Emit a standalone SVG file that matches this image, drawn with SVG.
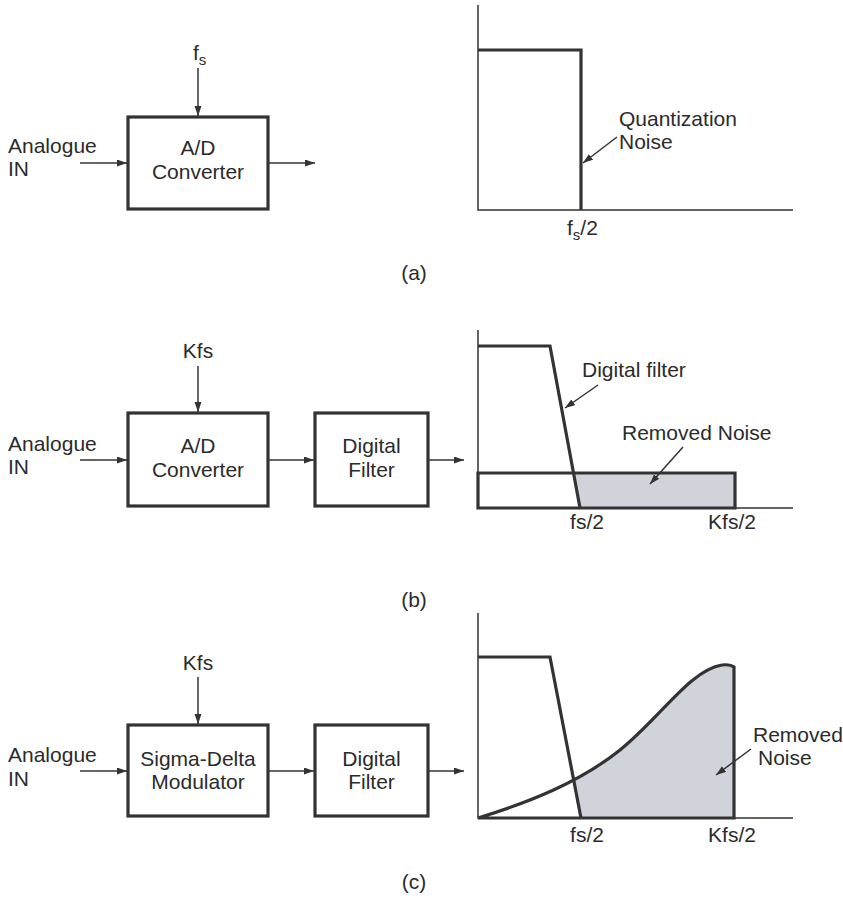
<svg xmlns="http://www.w3.org/2000/svg" width="843" height="899" viewBox="0 0 843 899">
<style>
text{font-family:"Liberation Sans",Arial,sans-serif;font-size:21px;fill:#2b2b2b}
.c{text-anchor:middle}
.box{fill:#fff;stroke:#333;stroke-width:3.2}
.thin{fill:none;stroke:#333;stroke-width:1.5}
.thick{fill:none;stroke:#333;stroke-width:3.2;stroke-linejoin:miter}
.shade{fill:#d0d4da;stroke:none}
.arr{fill:none;stroke:#333;stroke-width:1.5;marker-end:url(#ah)}
</style>
<defs>
<marker id="ah" markerUnits="userSpaceOnUse" markerWidth="11" markerHeight="8" refX="10" refY="3.5" orient="auto">
<path d="M0,0 L10,3.5 L0,7 z" fill="#333"/>
</marker>
<clipPath id="rightOfFilter">
<polygon points="539,600 800,600 800,818 581,818"/>
</clipPath>
</defs>
<rect width="843" height="899" fill="#fff"/>

<!-- Panel (a) -->
<g id="a-input"><text x="8" y="153">Analogue</text><text x="8" y="176">IN</text></g>
<g id="a-clock"><text x="193" y="60">f<tspan font-size="15" dy="5">s</tspan></text></g>
<g id="a-adc"><rect class="box" x="128" y="117" width="140" height="92"/><text class="c" x="198" y="155">A/D</text><text class="c" x="198" y="179">Converter</text></g>
<g id="a-chart">
<path class="thin" d="M478,5 V210 H793"/>
<path class="thick" d="M478,50 H581 V210"/>
<text x="619" y="126">Quantization</text><text x="619" y="149">Noise</text>
<text x="567" y="235">f<tspan font-size="15" dy="5">s</tspan><tspan dy="-5">/2</tspan></text>
</g>
<g id="a-caption"><text class="c" x="414" y="280">(a)</text></g>

<!-- Panel (b) -->
<g id="b-input"><text x="8" y="451">Analogue</text><text x="8" y="474">IN</text></g>
<g id="b-clock"><text class="c" x="198" y="358">Kfs</text></g>
<g id="b-adc"><rect class="box" x="128" y="413" width="140" height="93"/><text class="c" x="198" y="453">A/D</text><text class="c" x="198" y="477">Converter</text></g>
<g id="b-filter"><rect class="box" x="315" y="413" width="113" height="93"/><text class="c" x="371.5" y="453">Digital</text><text class="c" x="371.5" y="477">Filter</text></g>
<g id="b-chart">
<polygon class="shade" points="573.5,473 735,473 735,508 580,508"/>
<path class="thin" d="M478,330 V508 H793"/>
<path class="thick" d="M478,346 H550 L580,508"/>
<path class="thick" d="M478,473 H735 V508 H478 Z"/>
<text x="582" y="377">Digital filter</text>
<text x="622" y="440">Removed Noise</text>
<text class="c" x="587" y="529">fs/2</text>
<text class="c" x="732" y="529">Kfs/2</text>
</g>
<g id="b-caption"><text class="c" x="414" y="607">(b)</text></g>

<!-- Panel (c) -->
<g id="c-input"><text x="8" y="762">Analogue</text><text x="8" y="786">IN</text></g>
<g id="c-clock"><text class="c" x="198" y="670">Kfs</text></g>
<g id="c-sdm"><rect class="box" x="128" y="725" width="140" height="91"/><text class="c" x="198" y="766">Sigma-Delta</text><text class="c" x="198" y="789">Modulator</text></g>
<g id="c-filter"><rect class="box" x="315" y="725" width="113" height="91"/><text class="c" x="371.5" y="766">Digital</text><text class="c" x="371.5" y="789">Filter</text></g>
<g id="c-chart">
<path class="shade" clip-path="url(#rightOfFilter)" d="M478,818 C530,802 580,782 620,750 C660,718 690,670 722,665 Q730,664 734,667 L734,818 Z"/>
<path class="thin" d="M478,613 V818 H793"/>
<path class="thick" d="M478,657 H550 L581,818"/>
<path class="thick" d="M478,818 C530,802 580,782 620,750 C660,718 690,670 722,665 Q730,664 734,667 V818 H478"/>
<text x="753" y="742">Removed</text><text x="758" y="765">Noise</text>
<text class="c" x="587" y="842">fs/2</text>
<text class="c" x="732" y="842">Kfs/2</text>
</g>
<g id="c-caption"><text class="c" x="414" y="889">(c)</text></g>

<!-- Connectors -->
<g id="connectors">
<line class="arr" x1="198" y1="68" x2="198" y2="116"/>
<line class="arr" x1="80" y1="163" x2="127" y2="163"/>
<line class="arr" x1="268" y1="163" x2="315" y2="163"/>
<line class="arr" x1="617" y1="137" x2="583" y2="163"/>

<line class="arr" x1="198" y1="366" x2="198" y2="412"/>
<line class="arr" x1="80" y1="460" x2="127" y2="460"/>
<line class="arr" x1="268" y1="460" x2="314" y2="460"/>
<line class="arr" x1="428" y1="460" x2="464" y2="460"/>
<line class="arr" x1="598" y1="385" x2="565" y2="408"/>
<line class="arr" x1="683" y1="447" x2="650" y2="484"/>

<line class="arr" x1="198" y1="677" x2="198" y2="724"/>
<line class="arr" x1="80" y1="771" x2="127" y2="771"/>
<line class="arr" x1="268" y1="771" x2="314" y2="771"/>
<line class="arr" x1="428" y1="771" x2="464" y2="771"/>
<line class="arr" x1="751" y1="749" x2="716" y2="775"/>
</g>
</svg>
